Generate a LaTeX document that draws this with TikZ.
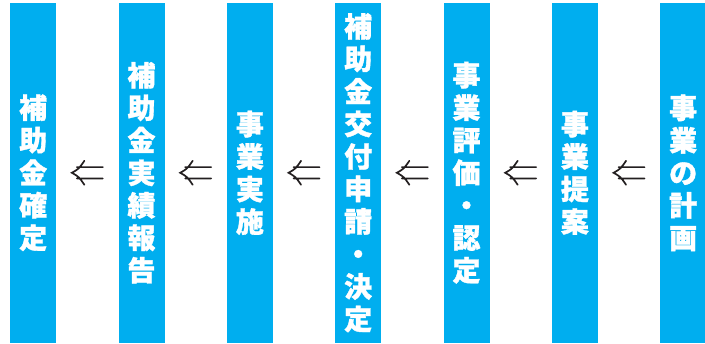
\documentclass[tikz,border=0pt]{standalone}
\usepackage{fontspec}
\newfontfamily\cjk{Noto Sans CJK JP}[BoldFeatures={FakeBold=1.2}]
\definecolor{barblue}{RGB}{0,174,239}
\definecolor{arrowgray}{RGB}{35,31,32}
\tikzset{
  bar/.style={fill=barblue, draw=none, minimum width=46pt, minimum height=340pt, inner sep=0pt, anchor=south west},
  lbl/.style={text=white, align=center, inner sep=0pt, font=\cjk\bfseries\fontsize{28}{32.5}\selectfont},
  arrstroke/.style={draw=arrowgray, line width=1.7pt, line cap=round},
}
\begin{document}
\begin{tikzpicture}[x=1pt,y=1pt]
\useasboundingbox (0,0) rectangle (705,344);
\node[bar] (b1) at (10,1) {};
\node[bar] (b2) at (118.3,1) {};
\node[bar] (b3) at (226.7,1) {};
\node[bar] (b4) at (335,1) {};
\node[bar] (b5) at (443.3,1) {};
\node[bar] (b6) at (551.7,1) {};
\node[bar] (b7) at (660,1) {};
\node[lbl] (t1) at (b1.center) {補\\助\\金\\確\\定};
\node[lbl] (t2) at (b2.center) {補\\助\\金\\実\\績\\報\\告};
\node[lbl] (t3) at (b3.center) {事\\業\\実\\施};
\node[lbl] (t4) at (b4.center) {補\\助\\金\\交\\付\\申\\請\\・\\決\\定};
\node[lbl] (t5) at (b5.center) {事\\業\\評\\価\\・\\認\\定};
\node[lbl] (t6) at (b6.center) {事\\業\\提\\案};
\node[lbl] (t7) at (b7.center) {事\\業\\の\\計\\画};
\foreach \a/\b in {1/2,2/3,3/4,4/5,5/6,6/7}{
  \path (b\a.east) -- (b\b.west) coordinate[pos=0.25] (tip\a) coordinate[pos=0.75] (end\a);
  \draw[arrstroke]
    ([shift={(5,5.65)}]tip\a) -- ([yshift=5.65]end\a)
    ([shift={(5,-5.65)}]tip\a) -- ([yshift=-5.65]end\a)
    ([shift={(12.5,12)}]tip\a) .. controls ([shift={(7,4)}]tip\a) .. (tip\a)
      .. controls ([shift={(7,-4)}]tip\a) .. ([shift={(12.5,-12)}]tip\a);
}
\end{tikzpicture}
\end{document}
